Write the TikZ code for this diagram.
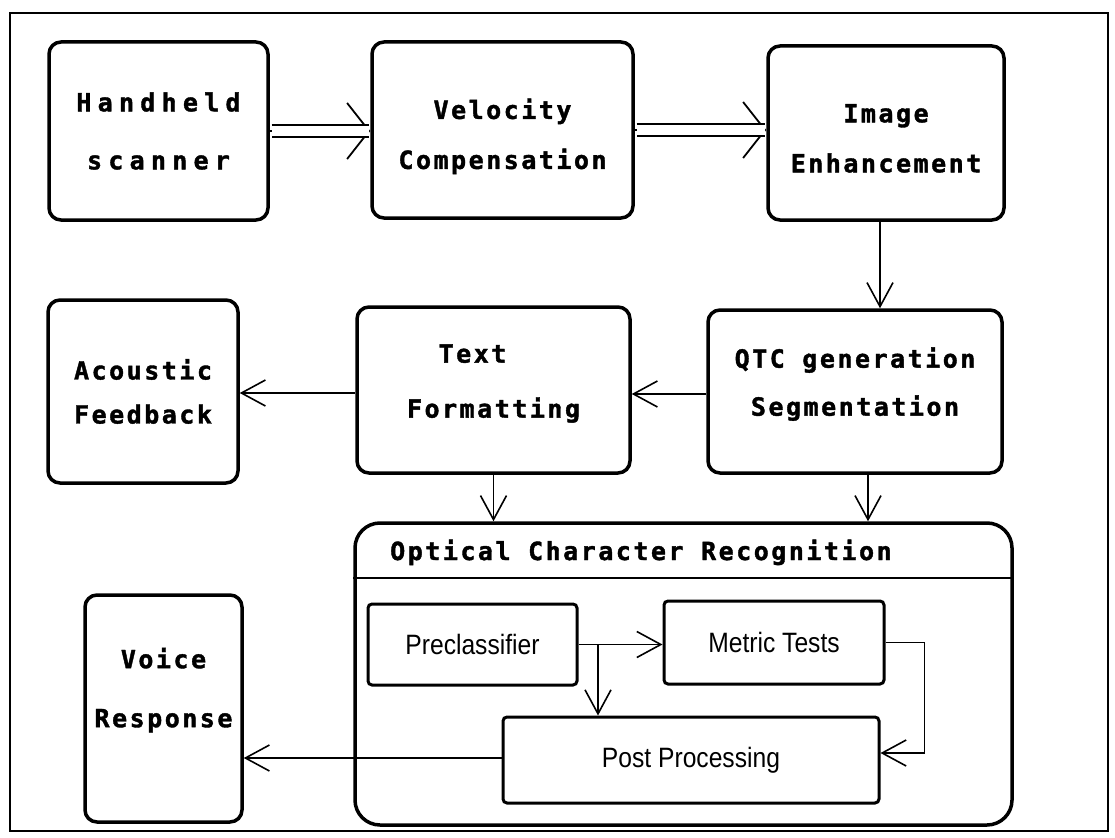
\documentclass[tikz,border=0pt]{standalone}
\usepackage{fontspec}
\usepackage{graphicx}
\usetikzlibrary{arrows.meta}
\newfontfamily\blkfont{DejaVu Sans Mono}[LetterSpace=10,BoldFeatures={FakeBold=1.5}]
\newfontfamily\wideblkfont{DejaVu Sans Mono}[LetterSpace=25,BoldFeatures={FakeBold=1.5}]
\newfontfamily\subfont{Liberation Sans}
\newcommand{\condensed}[1]{\scalebox{.88}[1]{#1}}
\tikzset{>={Straight Barb[length=24pt,width=26pt]},
  blk/.style={draw,line width=3.5pt,rounded corners=12pt,align=center,inner sep=0pt,font=\blkfont\bfseries\fontsize{25}{50}\selectfont},
  sub/.style={draw,line width=3pt,rounded corners=4pt,inner sep=0pt,font=\subfont\fontsize{28}{28}\selectfont},
  flow/.style={line width=1.6pt,->},
  dbltip/.style={line width=1.8pt,-{Straight Barb[length=22pt,width=56pt]}},
  dbl/.style={double,double distance=10.5pt,line width=2.2pt,shorten <=1.75pt,shorten >=1.75pt}}

\begin{document}
\begin{tikzpicture}[x=1pt,y=-1pt]
\useasboundingbox (0,0) rectangle (1115,837);
\draw[line width=2pt] (10,13) rectangle (1108,831);
% top row
\node[blk,font=\wideblkfont\bfseries\fontsize{25}{58}\selectfont,minimum width=219pt,minimum height=178pt] (hand) at (158.5,131) {Handheld\\scanner};
\node[blk,text height=83pt,minimum width=261pt,minimum height=176pt] (velo) at (502.5,130) {Velocity\\Compensation};
\node[blk,text height=79pt,minimum width=236pt,minimum height=174pt] (imag) at (886,133) {Image\\Enhancement};
% middle row
\node[blk,minimum width=190pt,minimum height=183pt] (acou) at (143,391.5) {Acoustic\\[-6pt]Feedback};
\node[blk,text depth=18pt,minimum width=273pt,minimum height=166pt] (text) at (493.5,390) {Text\hspace*{42pt}\\[5pt]Formatting};
\node[blk,text depth=20pt,minimum width=294pt,minimum height=163pt] (qtc) at (855,391.5) {QTC generation\\[-2pt]Segmentation};
% bottom row
\node[blk,text depth=42pt,minimum width=157pt,minimum height=227pt] (voic) at (163.5,708.5) {Voice\\[9pt]Response};
\node[blk,rounded corners=25pt,minimum width=657pt,minimum height=302pt] (ocr) at (683.5,674) {};
\draw[line width=2pt] ([yshift=-57pt]ocr.north west) -- ([yshift=-57pt]ocr.north east);
\node[font=\blkfont\bfseries\fontsize{25}{25}\selectfont,anchor=base west,inner sep=0pt] (ocrt) at (390,560) {Optical Character Recognition};
\node[sub,minimum width=209pt,minimum height=81pt] (prec) at (472.5,644.5) {\condensed{Preclassifier}};
\node[sub,minimum width=220pt,minimum height=83pt] (metr) at (774,642.5) {\condensed{Metric Tests}};
\node[sub,minimum width=376pt,minimum height=86pt] (post) at (691,760) {\condensed{Post Processing}};
% connectors
\draw[dbltip] (hand.east) -- (hand.east -| velo.west);\draw[dbl] (hand.east) -- (hand.east -| velo.west);
\draw[dbltip] (velo.east) -- (velo.east -| imag.west);\draw[dbl] (velo.east) -- (velo.east -| imag.west);
\draw[flow] (imag.south -| 880,0) -- (qtc.north -| 880,0);
\draw[flow] (qtc.west |- 0,394) -- (text.east |- 0,394);
\draw[flow] (text.west |- 0,393) -- (acou.east |- 0,393);
\draw[flow] (text.south) -- (text.south |- ocr.north);
\draw[flow] (qtc.south -| 868,0) -- (ocr.north -| 868,0);
\draw[flow] (prec.east) -- (prec.east -| metr.west);
\draw[flow] (prec.east -| 598,0) -- (post.north -| 598,0);
\draw[flow] (metr.east) -- ++(39,0) |- ([yshift=7pt]post.east);
\draw[flow] (post.west |- 0,758) -- (voic.east |- 0,758);
\end{tikzpicture}
\end{document}
